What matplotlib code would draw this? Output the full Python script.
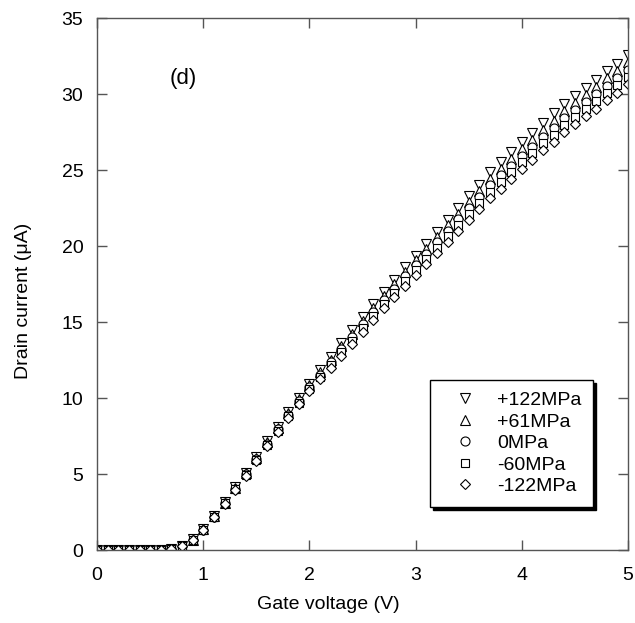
import numpy as np
import matplotlib
matplotlib.use("Agg")
import matplotlib.pyplot as plt

# --- Data
gate_v = np.round(np.arange(0, 5.01, 0.1), 1)

zeros = [0.0] * 7  # 0.0 .. 0.6 V

p122 = zeros + [0.08, 0.26, 0.70, 1.38, 2.24, 3.15, 4.13, 5.10, 6.13, 7.15,
                8.13, 9.10, 10.03, 10.95, 11.85, 12.70, 13.60, 14.45, 15.35, 16.18,
                17.00, 17.78, 18.60, 19.38, 20.15, 20.95, 21.73, 22.50, 23.28, 24.05,
                24.85, 25.53, 26.20, 26.85, 27.45, 28.10, 28.73, 29.33, 29.88, 30.38,
                30.95, 31.50, 32.00, 32.55]
p61 = zeros + [0.08, 0.25, 0.69, 1.37, 2.22, 3.13, 4.09, 5.05, 6.06, 7.08,
               8.04, 9.00, 9.91, 10.83, 11.70, 12.53, 13.40, 14.23, 15.10, 15.91,
               16.73, 17.49, 18.30, 19.06, 19.83, 20.60, 21.36, 22.13, 22.89, 23.65,
               24.43, 25.09, 25.75, 26.40, 27.00, 27.65, 28.26, 28.86, 29.41, 29.91,
               30.48, 31.03, 31.53, 32.08]
p0 = zeros + [0.08, 0.25, 0.68, 1.35, 2.20, 3.10, 4.05, 5.00, 6.00, 7.00,
              7.95, 8.90, 9.80, 10.70, 11.55, 12.35, 13.20, 14.00, 14.85, 15.65,
              16.45, 17.20, 18.00, 18.75, 19.50, 20.25, 21.00, 21.75, 22.50, 23.25,
              24.00, 24.65, 25.30, 25.95, 26.55, 27.20, 27.80, 28.40, 28.95, 29.45,
              30.00, 30.55, 31.05, 31.60]
m60 = zeros + [0.08, 0.25, 0.67, 1.34, 2.18, 3.08, 4.01, 4.95, 5.94, 6.93,
               7.86, 8.80, 9.69, 10.58, 11.40, 12.18, 13.00, 13.78, 14.60, 15.39,
               16.18, 16.91, 17.70, 18.44, 19.18, 19.90, 20.64, 21.38, 22.11, 22.85,
               23.58, 24.21, 24.85, 25.50, 26.10, 26.75, 27.34, 27.94, 28.49, 28.99,
               29.53, 30.08, 30.58, 31.13]
m122 = zeros + [0.08, 0.24, 0.66, 1.32, 2.16, 3.05, 3.98, 4.90, 5.88, 6.85,
                7.78, 8.70, 9.58, 10.45, 11.25, 12.00, 12.80, 13.55, 14.35, 15.13,
                15.90, 16.63, 17.40, 18.13, 18.85, 19.55, 20.28, 21.00, 21.73, 22.45,
                23.15, 23.78, 24.40, 25.05, 25.65, 26.30, 26.88, 27.48, 28.03, 28.53,
                29.05, 29.60, 30.10, 30.65]

labels = ['+122MPa', '+61MPa', '0MPa', '-60MPa', '-122MPa']
markers = ['v', '^', 'o', 's', 'D']
# ---

plt.rcParams['font.family'] = ['Liberation Sans', 'DejaVu Sans']

fig = plt.figure(figsize=(6.35, 6.23), dpi=100)
ax = fig.add_axes([0.153, 0.117, 0.836, 0.854])

for ys, lab, mk in zip([p122, p61, p0, m60, m122], labels, markers):
    ms = 6.5
    if mk == 'D':
        ms = 5.5
    elif mk == 's':
        ms = 6.0
    ax.plot(gate_v, ys, linestyle='none', marker=mk, markersize=ms,
            markerfacecolor='white', markeredgecolor='black',
            markeredgewidth=0.8, label=lab)

ax.set_xlim(0, 5)
ax.set_ylim(0, 35)
ax.set_xticks(range(0, 6))
ax.set_yticks(range(0, 36, 5))
ax.tick_params(direction='in', length=7, width=1, colors='#555555',
               labelcolor='black', labelsize=14, top=True, right=True)
ax.tick_params(axis='y', pad=10)
ax.tick_params(axis='x', pad=12)
for sp in ax.spines.values():
    sp.set_color('#555555')
    sp.set_linewidth(1.0)

ax.set_xlabel('Gate voltage (V)', fontsize=14)
ax.set_ylabel('Drain current (μA)', fontsize=14)
ax.xaxis.set_label_coords(0.435, -0.086)
ax.yaxis.set_label_coords(-0.122, 0.468)

ax.text(0.81, 31.05, '(d)', fontsize=16, ha='center', va='center')

leg = ax.legend(loc='upper left', bbox_to_anchor=(0.627, 0.320), fontsize=14,
                frameon=True, fancybox=False, shadow={'color': 'black', 'alpha': 1},
                borderpad=0.6, labelspacing=0.2, handletextpad=0.45,
                handlelength=2.4, borderaxespad=0)
leg.get_frame().set_edgecolor('black')
leg.get_frame().set_linewidth(1.0)

fig.savefig('out.png', dpi=100)
